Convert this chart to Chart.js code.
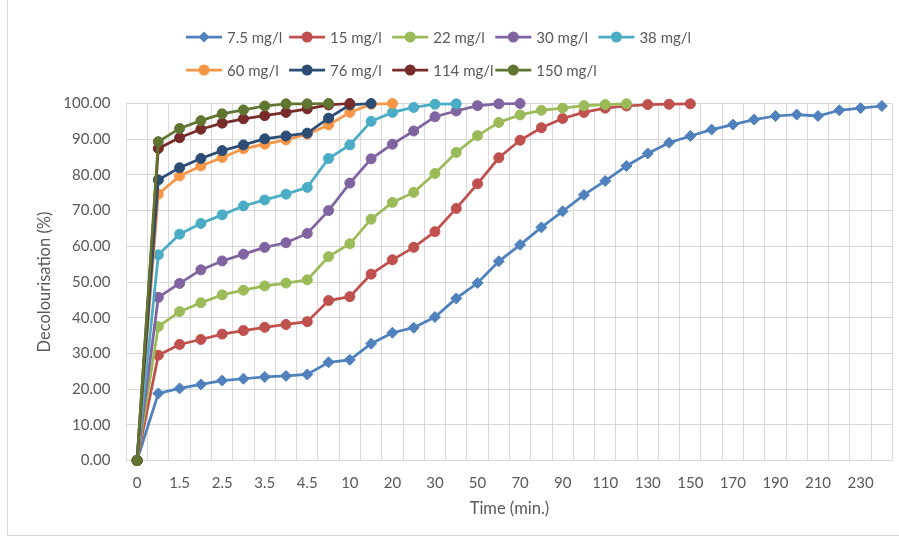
<!DOCTYPE html>
<html><head><meta charset="utf-8">
<script src="https://cdn.jsdelivr.net/npm/chart.js@4.4.0/dist/chart.umd.min.js"></script>
<style>
html,body{margin:0;padding:0;background:#fff;overflow:hidden;}
#wrap{position:relative;width:899px;height:538px;}
#frame{position:absolute;left:7px;top:-2px;width:900px;height:537px;border-left:1px solid #d9d9d9;border-bottom:1px solid #d9d9d9;pointer-events:none;}
canvas{position:absolute;left:0;top:0;}
</style></head><body>
<div id="wrap"><canvas id="c" width="899" height="538"></canvas><div id="frame"></div></div>
<script>
// Categories (time, min.)
const timeLabels = ['0','1','1.5','2','2.5','3','3.5','4','4.5','5','10','15','20','25','30','40','50','60','70','80','90','100','110','120','130','140','150','160','170','180','190','200','210','220','230','240'];
// Y tick values
const yTicks = [0,10,20,30,40,50,60,70,80,90,100];
// Series names
const seriesNames = ['7.5 mg/l','15 mg/l','22 mg/l','30 mg/l','38 mg/l','60 mg/l','76 mg/l','114 mg/l','150 mg/l'];
// Series values (% decolourisation)
const s7_5 = [0,18.8,20.2,21.3,22.4,22.9,23.4,23.7,24.1,27.5,28.2,32.7,35.8,37.2,40.2,45.4,49.7,55.8,60.4,65.3,69.8,74.4,78.3,82.5,86.0,89.0,90.9,92.7,94.1,95.5,96.5,96.9,96.5,98.1,98.7,99.3];
const s15 = [0,29.5,32.5,33.9,35.4,36.4,37.3,38.1,38.9,44.8,45.9,52.2,56.2,59.7,64.1,70.6,77.5,84.8,89.7,93.2,95.8,97.5,98.7,99.3,99.7,99.8,99.9];
const s22 = [0,37.5,41.7,44.2,46.4,47.7,48.9,49.7,50.6,57.1,60.7,67.6,72.3,75.1,80.4,86.3,91.0,94.7,96.8,98.1,98.7,99.4,99.7,99.9];
const s30 = [0,45.7,49.6,53.4,55.9,57.8,59.7,61.0,63.6,70.0,77.7,84.5,88.6,92.3,96.3,97.9,99.4,99.9,100];
const s38 = [0,57.6,63.4,66.4,68.8,71.3,73.0,74.6,76.5,84.6,88.4,95.0,97.5,98.9,99.8,99.9];
const s60 = [0,74.6,79.7,82.5,84.9,87.3,88.6,89.8,91.4,94.0,97.5,99.8,100];
const s76 = [0,78.6,82.0,84.6,86.8,88.4,90.1,90.9,91.7,95.9,99.6,100];
const s114 = [0,87.4,90.4,92.8,94.5,95.7,96.6,97.5,98.5,99.6,100];
const s150 = [0,89.3,93.0,95.2,97.1,98.2,99.3,99.9,99.9,100];

const seriesValues = [s7_5,s15,s22,s30,s38,s60,s76,s114,s150];
const colors = ['#4f81bd','#c0504d','#9bbb59','#8064a2','#4bacc6','#f79646','#2c4d75','#772c2a','#5f7530'];
const FONT = 'Lato';
const TXT = '#595959';
const TICK_SIZE = 15;
const TITLE_SIZE = 16.5;

const datasets = seriesValues.map((vals,i)=>({
  label: seriesNames[i],
  data: vals,
  borderColor: colors[i],
  backgroundColor: colors[i],
  pointBackgroundColor: colors[i],
  pointBorderColor: colors[i],
  pointStyle: i===0 ? 'rectRot' : 'circle',
  pointRadius: i===0 ? 5.5 : 5,
  pointBorderWidth: 1,
  borderWidth: 2.75,
  tension: 0,
  fill: false,
  clip: false,
  order: seriesValues.length - 1 - i
}));

const legendPlugin = {
  id:'xlLegend',
  afterDraw(chart){
    const ctx = chart.ctx;
    ctx.save();
    ctx.font = '15px ' + FONT;
    ctx.textBaseline = 'middle';
    ctx.textAlign = 'left';
    chart.data.datasets.forEach((ds,i)=>{
      const row = i < 5 ? 0 : 1;
      const col = i < 5 ? i : i-5;
      const x0 = 186 + col*103.1;
      const y = row===0 ? 37 : 70;
      ctx.strokeStyle = ds.borderColor;
      ctx.lineWidth = 2.75;
      ctx.beginPath(); ctx.moveTo(x0,y); ctx.lineTo(x0+36,y); ctx.stroke();
      ctx.fillStyle = ds.borderColor;
      ctx.beginPath();
      if (ds.pointStyle==='rectRot'){
        const r=5.5; ctx.moveTo(x0+18,y-r); ctx.lineTo(x0+18+r,y); ctx.lineTo(x0+18,y+r); ctx.lineTo(x0+18-r,y); ctx.closePath();
      } else { ctx.arc(x0+18,y,5.5,0,Math.PI*2); }
      ctx.fill();
      ctx.fillStyle = TXT;
      ctx.fillText(ds.label, x0+41, y+1);
    });
    ctx.restore();
  }
};

new Chart(document.getElementById('c'), {
  type:'line',
  data:{labels: timeLabels, datasets},
  plugins:[legendPlugin],
  options:{
    responsive:false, animation:false, devicePixelRatio:1,
    layout:{padding:{top:103.5,right:6.4,left:0,bottom:0}},
    plugins:{legend:{display:false}, tooltip:{enabled:false}},
    scales:{
      x:{
        type:'category', offset:true,
        grid:{offset:true, color:'#d9d9d9', lineWidth:1, drawTicks:false},
        border:{color:'#d9d9d9'},
        ticks:{autoSkip:false, maxRotation:0, minRotation:0, padding:14, color:TXT, font:{family:FONT,size:TICK_SIZE},
          callback(v,i){ return i%2===0 ? timeLabels[i] : ''; }},
        title:{display:true, text:'Time (min.)', color:TXT, font:{family:FONT,size:TITLE_SIZE}, padding:{top:0,bottom:19.6}},
        afterFit(s){ s.height = 77.5; }
      },
      y:{
        min:0, max:100,
        afterBuildTicks(s){ s.ticks = yTicks.map(v=>({value:v})); },
        grid:{color:'#d9d9d9', lineWidth:1, drawTicks:false},
        border:{display:false},
        ticks:{padding:16, color:TXT, font:{family:FONT,size:TICK_SIZE}, callback:v=>Number(v).toFixed(2)},
        title:{display:true, text:'Decolourisation (%)', color:TXT, font:{family:FONT,size:TITLE_SIZE}, padding:{top:35.1,bottom:0}},
        afterFit(s){ s.width = 126.4; }
      }
    }
  }
});
</script>
</body></html>
